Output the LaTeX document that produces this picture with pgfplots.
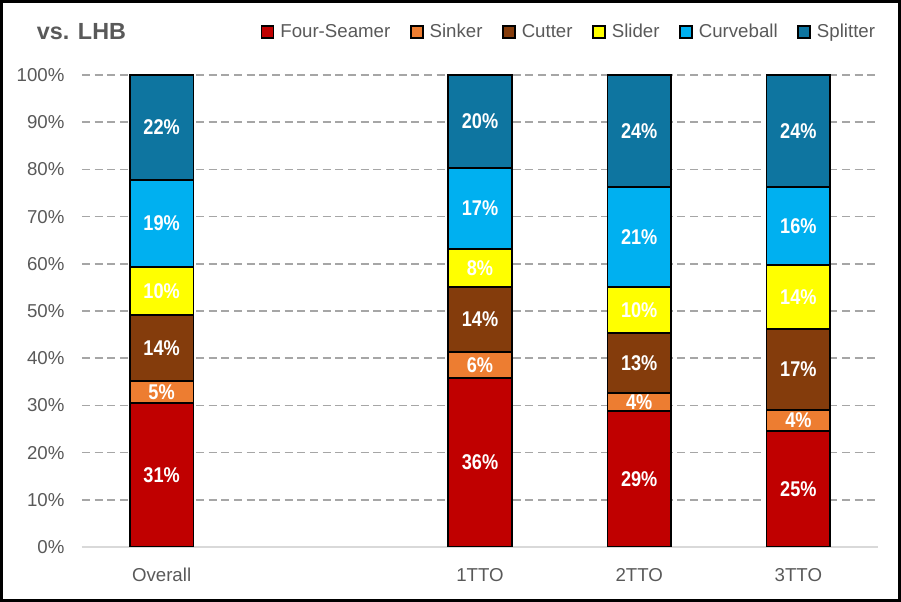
\documentclass[border=0pt]{standalone}
\usepackage{pgfplots}
\pgfplotsset{compat=1.18}
\usepackage{fontspec}
\setmainfont{Liberation Sans}
\newfontfamily\lblfont[FakeStretch=0.85]{Liberation Sans}

\definecolor{fourseam}{HTML}{C00000}
\definecolor{sinker}{HTML}{ED7D31}
\definecolor{cutter}{HTML}{843C0C}
\definecolor{slider}{HTML}{FFFF00}
\definecolor{curve}{HTML}{00B0F0}
\definecolor{splitter}{HTML}{0E75A0}
\definecolor{txtgray}{HTML}{595959}
\definecolor{gridgray}{HTML}{A6A6A6}
\definecolor{basegray}{HTML}{D9D9D9}

\begin{document}
\begin{tikzpicture}
\useasboundingbox (-61.5pt,-41.25pt) rectangle (614.25pt,410.25pt);

\begin{axis}[
    at={(0,0)}, anchor=south west,
    scale only axis,
    width=597pt, height=354pt,
    ybar stacked,
    bar width=0.4,
    xmin=-0.5, xmax=4.5,
    ymin=0, ymax=100,
    xtick={0,2,3,4},
    xticklabels={Overall,1TTO,2TTO,3TTO},
    ytick={0,10,...,100},
    yticklabels={0\%,10\%,20\%,30\%,40\%,50\%,60\%,70\%,80\%,90\%,100\%},
    major tick length=0pt,
    tick style={draw=none},
    separate axis lines,
    axis x line*=bottom,
    axis y line*=left,
    y axis line style={draw=none},
    x axis line style={draw=basegray, line width=1.5pt, -},
    ymajorgrids,
    grid style={draw=gridgray, line width=1.1pt, dash pattern=on 6pt off 3.5pt},
    ticklabel style={font=\fontsize{14}{16}\selectfont, text=txtgray},
    yticklabel style={anchor=east, inner sep=0pt, xshift=-13pt},
    xticklabel style={anchor=center, inner sep=0pt, yshift=-21pt},
    legend columns=-1,
    legend image code/.code={\draw[#1, draw=black, line width=1.2pt] (0pt,-4.5pt) rectangle (9pt,4.5pt);},
    legend style={at={(1.0,1.091)}, anchor=east, draw=none, fill=none,
        font=\fontsize{14}{16}\selectfont, text=txtgray, inner sep=0pt,
        /tikz/every odd column/.append style={column sep=2.5pt},
        /tikz/every even column/.append style={column sep=12.75pt}},
    every axis plot/.append style={draw=black, line width=1.2pt},
]
\addplot[fill=fourseam] coordinates {(0,30.5) (2,35.8) (3,28.8) (4,24.6)};
\addplot[fill=sinker]   coordinates {(0,4.7) (2,5.5) (3,3.8) (4,4.4)};
\addplot[fill=cutter]   coordinates {(0,14.0) (2,13.8) (3,12.7) (4,17.2)};
\addplot[fill=slider]   coordinates {(0,10.1) (2,8.0) (3,9.8) (4,13.5)};
\addplot[fill=curve]    coordinates {(0,18.5) (2,17.2) (3,21.2) (4,16.6)};
\addplot[fill=splitter] coordinates {(0,22.2) (2,19.7) (3,23.7) (4,23.7)};
\legend{Four-Seamer,Sinker,Cutter,Slider,Curveball,Splitter}
\end{axis}

% data labels at the middle of each segment
\begin{axis}[
    at={(0,0)}, anchor=south west,
    scale only axis,
    width=597pt, height=354pt,
    xmin=-0.5, xmax=4.5,
    ymin=0, ymax=100,
    hide axis,
]
\addplot[only marks, mark=none, nodes near coords, point meta=explicit symbolic,
    every node near coord/.style={anchor=center, text=white, inner sep=0pt,
        font=\lblfont\fontsize{16}{18}\selectfont\bfseries}]
    table[meta=lab] {
x y lab
0 15.25 31\%
0 32.85 5\%
0 42.2 14\%
0 54.25 10\%
0 68.55 19\%
0 88.9 22\%
2 17.9 36\%
2 38.55 6\%
2 48.2 14\%
2 59.1 8\%
2 71.7 17\%
2 90.15 20\%
3 14.4 29\%
3 30.7 4\%
3 38.95 13\%
3 50.2 10\%
3 65.7 21\%
3 88.15 24\%
4 12.3 25\%
4 26.8 4\%
4 37.6 17\%
4 52.95 14\%
4 68.0 16\%
4 88.15 24\%
};
\end{axis}

\node[anchor=west, inner sep=0pt, text=txtgray, font=\fontsize{17.5}{20}\selectfont\bfseries]
    at (-34pt,386.5pt) {vs. LHB};
\draw[black, line width=2.25pt] (-60.375pt,-40.125pt) rectangle (613.125pt,409.125pt);
\end{tikzpicture}
\end{document}
